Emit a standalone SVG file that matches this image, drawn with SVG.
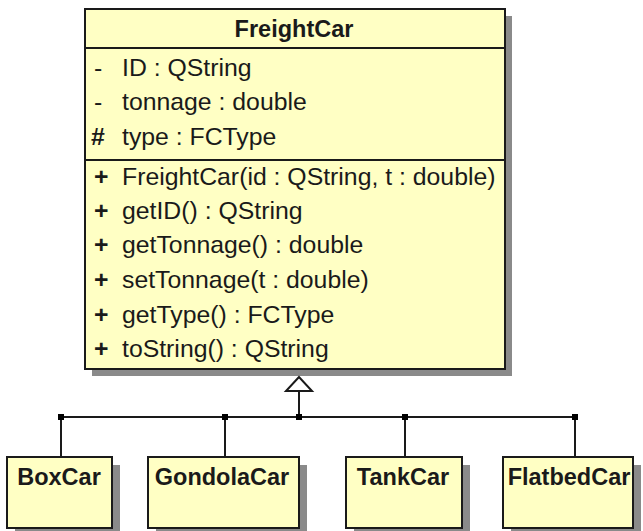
<svg xmlns="http://www.w3.org/2000/svg" width="643" height="531" viewBox="0 0 643 531">
<style>
.sh{fill:#8a8a8a}
.bx{fill:#ffffc4;stroke:#1a1a1a;stroke-width:2}
.sep{stroke:#1a1a1a;stroke-width:2}
.t{font-family:"Liberation Sans",Arial,sans-serif;font-size:24.8px;fill:#1a1a1a}
.b{font-family:"Liberation Sans",Arial,sans-serif;font-size:23.5px;font-weight:bold;fill:#1a1a1a;text-anchor:middle}
.ln{stroke:#1a1a1a;stroke-width:2;fill:none}
.dot{fill:#000}
</style>
<rect width="643" height="531" fill="#fff"/>
<g id="FreightCar">
<rect class="sh" x="92" y="16" width="420" height="360"/>
<rect class="bx" x="85" y="9" width="420" height="360"/>
<line class="sep" x1="85" y1="48" x2="505" y2="48"/>
<line class="sep" x1="85" y1="160" x2="505" y2="160"/>
<text class="b" x="294" y="37">FreightCar</text>
<text class="t" x="94" y="76">-</text><text class="t" x="122" y="76">ID : QString</text>
<text class="t" x="94" y="110">-</text><text class="t" x="122" y="110">tonnage : double</text>
<text class="t" x="91" y="145" font-weight="bold" font-size="20">#</text><text class="t" x="122" y="145">type : FCType</text>
<text class="t" x="94" y="185" font-weight="bold">+</text><text class="t" x="122" y="185">FreightCar(id : QString, t : double)</text>
<text class="t" x="94" y="219" font-weight="bold">+</text><text class="t" x="122" y="219">getID() : QString</text>
<text class="t" x="94" y="253" font-weight="bold">+</text><text class="t" x="122" y="253">getTonnage() : double</text>
<text class="t" x="94" y="288" font-weight="bold">+</text><text class="t" x="122" y="288">setTonnage(t : double)</text>
<text class="t" x="94" y="323" font-weight="bold">+</text><text class="t" x="122" y="323">getType() : FCType</text>
<text class="t" x="94" y="357" font-weight="bold">+</text><text class="t" x="122" y="357">toString() : QString</text>
</g>
<g id="BoxCar">
<rect class="sh" x="15" y="465" width="105" height="71"/>
<rect class="bx" x="7" y="457" width="105" height="71"/>
<text class="b" x="59" y="485">BoxCar</text>
</g>
<g id="GondolaCar">
<rect class="sh" x="156" y="465" width="151" height="71"/>
<rect class="bx" x="148" y="457" width="151" height="71"/>
<text class="b" x="222" y="485">GondolaCar</text>
</g>
<g id="TankCar">
<rect class="sh" x="354" y="465" width="116" height="71"/>
<rect class="bx" x="346" y="457" width="116" height="71"/>
<text class="b" x="403" y="485">TankCar</text>
</g>
<g id="FlatbedCar">
<rect class="sh" x="511" y="465" width="130" height="71"/>
<rect class="bx" x="503" y="457" width="130" height="71"/>
<text class="b" x="569" y="485">FlatbedCar</text>
</g>
<g id="connectors">
<polygon points="299,377 286,391 312,391" fill="#fff" stroke="#1a1a1a" stroke-width="2"/>
<line class="ln" x1="299" y1="391" x2="299" y2="417"/>
<line class="ln" x1="61" y1="417" x2="575" y2="417"/>
<line class="ln" x1="61" y1="417" x2="61" y2="457"/>
<line class="ln" x1="225" y1="417" x2="225" y2="457"/>
<line class="ln" x1="405" y1="417" x2="405" y2="457"/>
<line class="ln" x1="575" y1="417" x2="575" y2="457"/>
<rect class="dot" x="58" y="414" width="6" height="6"/>
<rect class="dot" x="222" y="414" width="6" height="6"/>
<rect class="dot" x="296" y="414" width="6" height="6"/>
<rect class="dot" x="402" y="414" width="6" height="6"/>
<rect class="dot" x="572" y="414" width="6" height="6"/>
</g>
</svg>
